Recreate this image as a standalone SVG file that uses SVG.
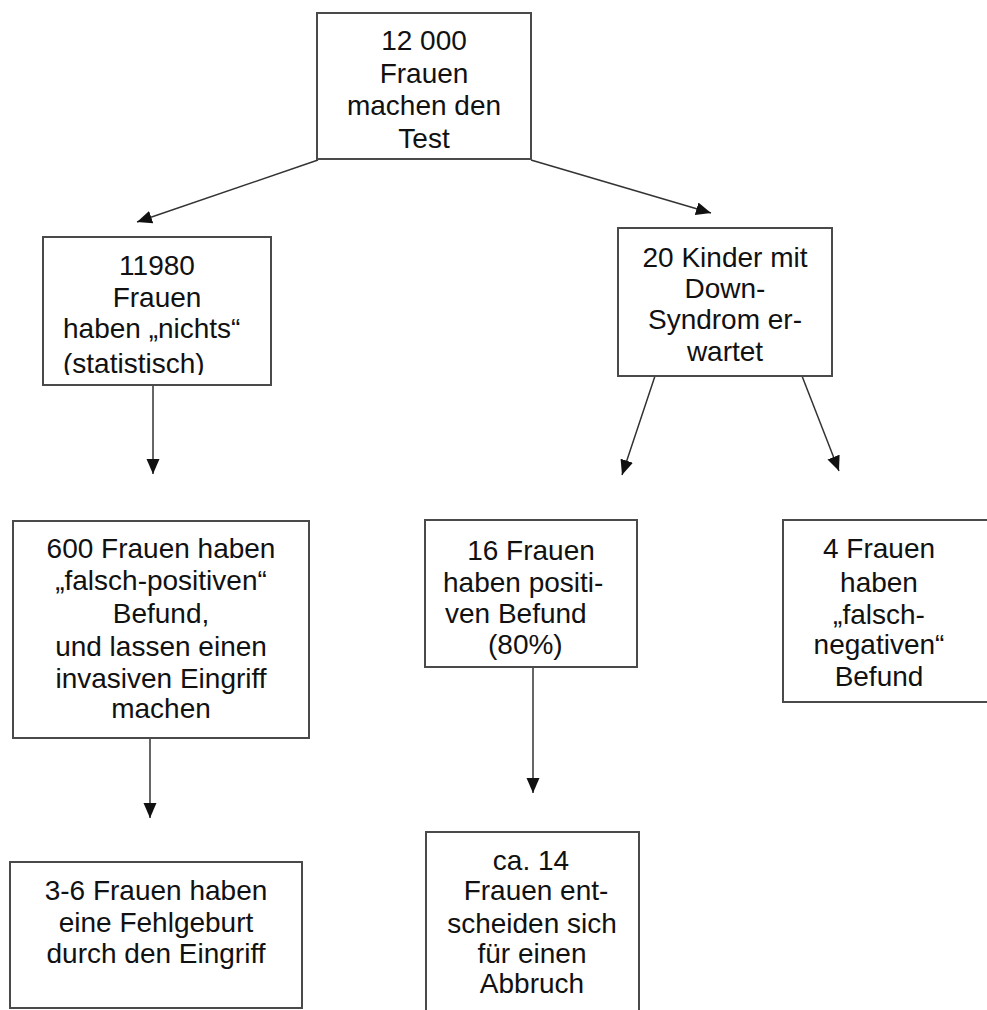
<svg xmlns="http://www.w3.org/2000/svg" width="987" height="1010" viewBox="0 0 987 1010">
<style>
.box{fill:#fff;stroke:#4a4a4a;stroke-width:2}
.t{font-family:"Liberation Sans",Arial,sans-serif;font-size:28px;fill:#111}
.m{text-anchor:middle}
.c{stroke:#333;stroke-width:1.5;fill:none;marker-end:url(#ah)}
</style>
<defs>
<marker id="ah" markerUnits="userSpaceOnUse" markerWidth="16" markerHeight="14" refX="15" refY="6.5" orient="auto">
<path d="M0,0 L15,6.5 L0,13 z" fill="#111"/>
</marker>
<clipPath id="clipL"><rect x="43" y="237" width="228" height="138"/></clipPath>
</defs>
<rect width="987" height="1010" fill="#fff"/>
<g id="connectors">
<line class="c" x1="318" y1="160" x2="137" y2="222"/>
<line class="c" x1="531" y1="160" x2="711" y2="213"/>
<line class="c" x1="153" y1="385" x2="153" y2="474"/>
<line class="c" x1="655" y1="376" x2="622" y2="475"/>
<line class="c" x1="802" y1="376" x2="839" y2="471"/>
<line class="c" x1="150" y1="738" x2="150" y2="818"/>
<line class="c" x1="533" y1="667" x2="533" y2="793"/>
</g>
<g id="n-top">
<rect class="box" x="317" y="13" width="214" height="146"/>
<text class="t m" x="424" y="50">12 000</text>
<text class="t m" x="424" y="83">Frauen</text>
<text class="t m" x="424" y="115">machen den</text>
<text class="t m" x="424" y="148">Test</text>
</g>
<g id="n-nichts">
<rect class="box" x="43" y="237" width="228" height="148"/>
<g clip-path="url(#clipL)">
<text class="t m" x="157" y="275">11980</text>
<text class="t m" x="157" y="307">Frauen</text>
<text class="t" x="63" y="338">haben „nichts“</text>
<text class="t" x="63" y="373">(statistisch)</text>
</g>
</g>
<g id="n-down">
<rect class="box" x="618" y="228" width="214" height="148"/>
<text class="t m" x="725" y="267">20 Kinder mit</text>
<text class="t m" x="725" y="298">Down-</text>
<text class="t m" x="725" y="329">Syndrom er-</text>
<text class="t m" x="725" y="361">wartet</text>
</g>
<g id="n-600">
<rect class="box" x="13" y="521" width="296" height="217"/>
<text class="t m" x="161" y="558">600 Frauen haben</text>
<text class="t m" x="161" y="590">„falsch-positiven“</text>
<text class="t m" x="161" y="623">Befund,</text>
<text class="t m" x="161" y="656">und lassen einen</text>
<text class="t m" x="161" y="688">invasiven Eingriff</text>
<text class="t m" x="161" y="718">machen</text>
</g>
<g id="n-16">
<rect class="box" x="425" y="520" width="212" height="147"/>
<text class="t m" x="531" y="560">16 Frauen</text>
<text class="t" x="443" y="592">haben positi-</text>
<text class="t" x="445" y="623">ven Befund</text>
<text class="t" x="488" y="654">(80%)</text>
</g>
<g id="n-4">
<rect class="box" x="783" y="520" width="220" height="182"/>
<text class="t m" x="879" y="558">4 Frauen</text>
<text class="t m" x="879" y="592">haben</text>
<text class="t m" x="879" y="624">„falsch-</text>
<text class="t m" x="879" y="654">negativen“</text>
<text class="t m" x="879" y="686">Befund</text>
</g>
<g id="n-fehlgeburt">
<rect class="box" x="10" y="862" width="292" height="146"/>
<text class="t m" x="156" y="900">3-6 Frauen haben</text>
<text class="t m" x="156" y="932">eine Fehlgeburt</text>
<text class="t m" x="156" y="963">durch den Eingriff</text>
</g>
<g id="n-abbruch">
<rect class="box" x="426" y="832" width="213" height="190"/>
<text class="t m" x="531" y="870">ca. 14</text>
<text class="t m" x="536" y="900">Frauen ent-</text>
<text class="t m" x="532" y="933">scheiden sich</text>
<text class="t m" x="532" y="963">für einen</text>
<text class="t m" x="532" y="993">Abbruch</text>
</g>
</svg>
